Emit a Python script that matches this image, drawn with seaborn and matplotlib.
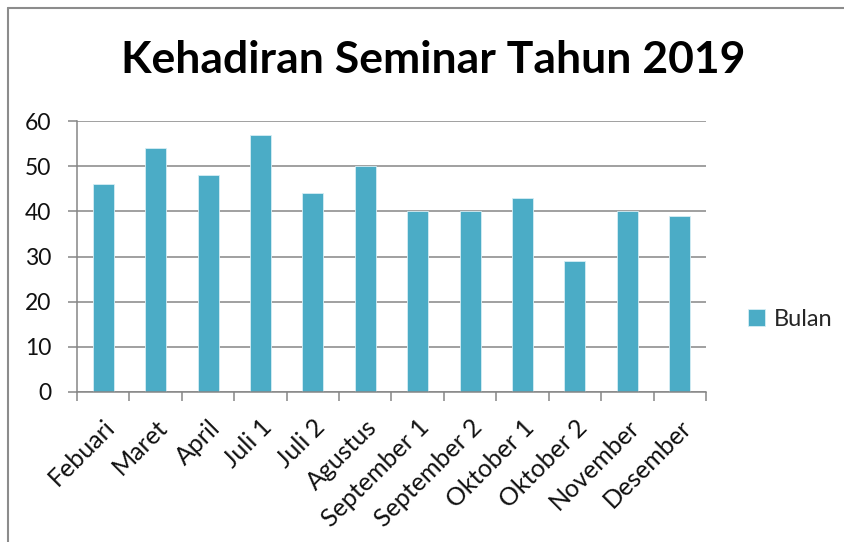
import matplotlib
matplotlib.use("Agg")
import matplotlib.pyplot as plt
from matplotlib.lines import Line2D
import seaborn as sns
import numpy as np

categories = ["Febuari", "Maret", "April", "Juli 1", "Juli 2", "Agustus",
              "September 1", "September 2", "Oktober 1", "Oktober 2",
              "November", "Desember"]
values = [46, 54, 48, 57, 44, 50, 40, 40, 43, 29, 40, 39]
series_name = "Bulan"
title = "Kehadiran Seminar Tahun 2019"
yticks = [0, 10, 20, 30, 40, 50, 60]

sns.set_theme(style="white")
plt.rcParams["font.family"] = ["Lato", "DejaVu Sans"]

bar_color = "#4BACC6"
grid_color = "#868686"

fig = plt.figure(figsize=(8.45, 5.42), dpi=100)
ax = fig.add_axes([77 / 845, 1 - 392 / 542, (706 - 77) / 845, (392 - 121) / 542])

sns.barplot(x=categories, y=values, color=bar_color, width=0.4,
            label=series_name, ax=ax, saturation=1,
            edgecolor="#d6eef4", linewidth=0.6)

ax.set_ylim(0, 60)
ax.set_xlim(-0.5, len(categories) - 0.5)
ax.set_yticks(yticks)
ax.set_yticklabels([str(v) for v in yticks], fontsize=16.5, color="#111111")
ax.yaxis.grid(True, color=grid_color, linewidth=1.1)
ax.set_axisbelow(True)
ax.set_xlabel("")
ax.set_ylabel("")

for s in ["top", "right"]:
    ax.spines[s].set_visible(False)
for s in ["left", "bottom"]:
    ax.spines[s].set_color(grid_color)
    ax.spines[s].set_linewidth(1.1)

ax.tick_params(axis="y", which="major", length=6.5, width=1.1, color=grid_color,
               direction="out", left=True, pad=12)
ax.set_xticks(np.arange(len(categories)))
ax.set_xticklabels(categories, rotation=45, ha="right", rotation_mode="anchor",
                   fontsize=18, color="#111111")
ax.tick_params(axis="x", which="major", length=0, pad=17)
ax.set_xticks(np.arange(-0.5, len(categories)), minor=True)
ax.tick_params(axis="x", which="minor", length=6.5, width=1.1, color=grid_color,
               direction="out", bottom=True)

fig.suptitle(title, x=433 / 845, y=1 - 60 / 542, va="center",
             fontsize=32, fontweight="bold", color="#000000")

leg = ax.legend(loc="center left", bbox_to_anchor=(748 / 845, 1 - 319 / 542),
                bbox_transform=fig.transFigure, frameon=False, fontsize=17,
                handlelength=0.7, handleheight=0.7, handletextpad=0.4,
                borderpad=0, borderaxespad=0)

fig.add_artist(Line2D([8 / 845, 8 / 845], [0, 1 - 8 / 542],
                      transform=fig.transFigure, color="#8c8c8c", linewidth=1.5))
fig.add_artist(Line2D([8 / 845, 1], [1 - 8 / 542, 1 - 8 / 542],
                      transform=fig.transFigure, color="#8c8c8c", linewidth=1.5))

fig.savefig("out.png", dpi=100)
